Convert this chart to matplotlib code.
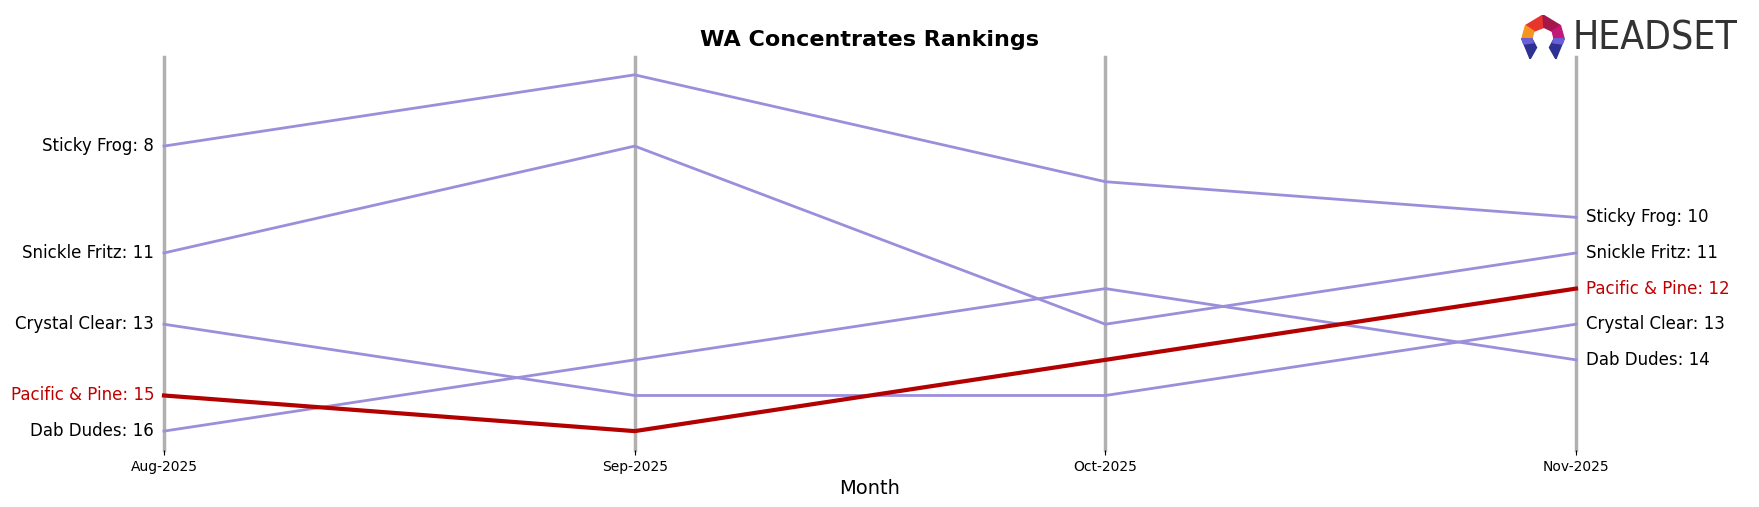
import matplotlib.pyplot as plt
from matplotlib.patches import Polygon

# rankings per month (lower = better)
months = ['Aug-2025', 'Sep-2025', 'Oct-2025', 'Nov-2025']
brands = ['Sticky Frog', 'Snickle Fritz', 'Crystal Clear', 'Pacific & Pine', 'Dab Dudes']
sticky_frog = [8, 6, 9, 10]
snickle_fritz = [11, 8, 13, 11]
crystal_clear = [13, 15, 15, 13]
pacific_pine = [15, 16, 14, 12]
dab_dudes = [16, 14, 12, 14]
ranks = [sticky_frog, snickle_fritz, crystal_clear, pacific_pine, dab_dudes]
highlight = 'Pacific & Pine'

fig = plt.figure(figsize=(17.59, 5.07), dpi=100)
ax = fig.add_axes([164 / 1759, 57 / 507, 1412 / 1759, 393 / 507])

x = list(range(len(months)))
for xi in x:
    ax.axvline(xi, color='#b0b0b0', lw=2.5, zorder=0, clip_on=False)

for name, r in zip(brands, ranks):
    if name == highlight:
        ax.plot(x, r, color='#b30000', lw=3, zorder=3, clip_on=False)
        col = '#c00000'
    else:
        ax.plot(x, r, color='#9b8fdb', lw=2, zorder=2, clip_on=False)
        col = 'black'
    ax.text(-0.021, r[0], f'{name}: {r[0]}', ha='right', va='center', fontsize=12, color=col)
    ax.text(x[-1] + 0.021, r[-1], f'{name}: {r[-1]}', ha='left', va='center', fontsize=12, color=col)

ax.set_xlim(0, 3)
ax.set_ylim(16.53, 5.5)
ax.set_xticks(x)
ax.set_xticklabels(months, fontsize=10)
ax.set_yticks([])
for s in ax.spines.values():
    s.set_visible(False)
ax.set_xlabel('Month', fontsize=14)
ax.set_title('WA Concentrates Rankings', fontsize=16, fontweight='bold', pad=8)

# logo
lax = fig.add_axes([1520 / 1759, 448 / 507, 46 / 1759, 44 / 507])
lax.set_xlim(0, 10)
lax.set_ylim(0, 10)
lax.axis('off')
shapes = [
    ([(1.2, 7.6), (5, 10), (5.2, 7.2), (3, 6.3)], '#e8342c'),
    ([(5, 10), (8.8, 7.6), (7, 6.3), (5.2, 7.2)], '#a3174a'),
    ([(8.8, 7.6), (9.6, 4.6), (7.4, 4.6), (7, 6.3)], '#c2187a'),
    ([(1.2, 7.6), (3, 6.3), (2.6, 4.6), (0.4, 4.6)], '#f7941d'),
    ([(0.4, 4.6), (2.6, 4.6), (3.6, 2.6), (2.2, 0)], '#2e3192'),
    ([(9.6, 4.6), (7.4, 4.6), (6.4, 2.6), (7.8, 0)], '#2e3192'),
    ([(0.4, 4.6), (2.6, 4.6), (2.9, 3.7), (0.8, 3.4)], '#6b5fd6'),
    ([(9.6, 4.6), (7.4, 4.6), (7.1, 3.7), (9.2, 3.4)], '#6b5fd6'),
]
for pts, c in shapes:
    lax.add_patch(Polygon(pts, closed=True, color=c))
fig.text(1573 / 1759, 1 - 39 / 507, 'HEADSET', fontsize=28, color='#333333',
         ha='left', va='center', family='DejaVu Sans', fontstretch='condensed')

fig.savefig('out.png', dpi=100)
